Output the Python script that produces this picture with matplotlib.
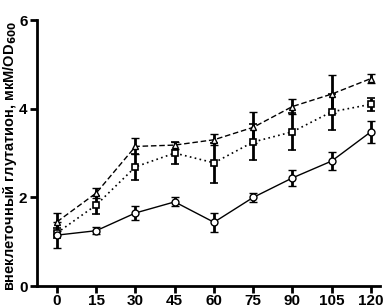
import matplotlib.pyplot as plt

plt.rcParams['font.family'] = ['Liberation Sans', 'DejaVu Sans']
plt.rcParams['font.weight'] = 'bold'

time = [0, 15, 30, 45, 60, 75, 90, 105, 120]

circ = [1.15, 1.25, 1.65, 1.9, 1.44, 2.0, 2.44, 2.82, 3.48]
circ_err = [0.3, 0.08, 0.15, 0.1, 0.22, 0.1, 0.18, 0.2, 0.25]

sq = [1.2, 1.83, 2.69, 3.0, 2.78, 3.25, 3.48, 3.93, 4.1]
sq_err = [0.12, 0.2, 0.3, 0.25, 0.45, 0.4, 0.42, 0.4, 0.15]

tri = [1.45, 2.1, 3.15, 3.18, 3.3, 3.58, 4.05, 4.33, 4.68]
tri_err = [0.2, 0.12, 0.18, 0.08, 0.12, 0.35, 0.18, 0.42, 0.1]

fig = plt.figure(figsize=(3.91, 3.08), dpi=100)
ax = fig.add_axes([0.095, 0.071, 0.877, 0.864])

ax.errorbar(time, tri, yerr=tri_err, color='black', ls=(0, (4, 2)), lw=1,
            marker='^', ms=5, mfc='white', mec='black', mew=1,
            elinewidth=2, capsize=3, capthick=1.5)
ax.errorbar(time, sq, yerr=sq_err, color='black', ls=(0, (1, 2)), lw=1.2,
            marker='s', ms=5, mfc='white', mec='black', mew=1.2,
            elinewidth=2, capsize=3, capthick=1.5)
ax.errorbar(time, circ, yerr=circ_err, color='black', ls='-', lw=1,
            marker='o', ms=5, mfc='white', mec='black', mew=1,
            elinewidth=2, capsize=3, capthick=1.5)

ax.set_xlim(-7.6, 123.5)
ax.set_ylim(0, 6)
ax.set_xticks(time)
ax.set_yticks([0, 2, 4, 6])
ax.spines['top'].set_visible(False)
ax.spines['right'].set_visible(False)
ax.spines['left'].set_linewidth(2)
ax.spines['bottom'].set_linewidth(2)
ax.tick_params(direction='out', length=5, width=2, labelsize=11)
ax.tick_params(axis='x', pad=1)
ax.tick_params(axis='y', pad=2)
ax.set_ylabel('внеклеточный глутатион, мкМ/OD$_{600}$', fontsize=10.5,
              fontweight='bold')
ax.yaxis.set_label_coords(-0.052, 0.49)

fig.savefig('out.png', dpi=100)
